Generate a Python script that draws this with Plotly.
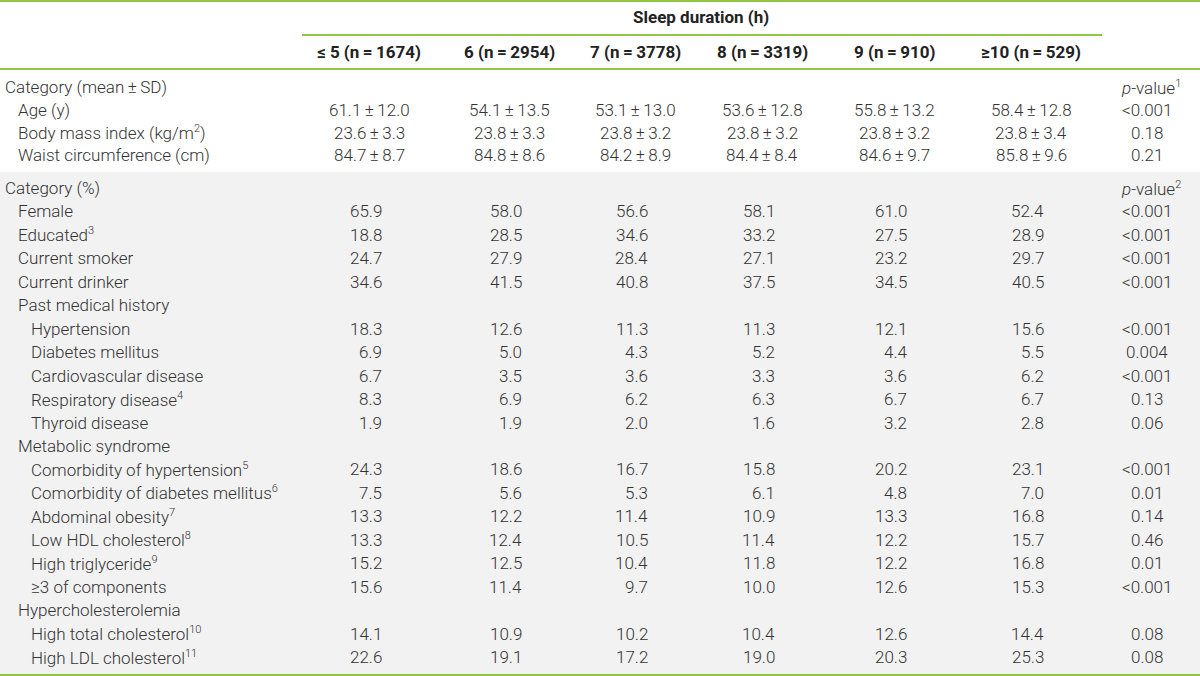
import plotly.graph_objects as go

# ─── Data ─────────────────────────────────────────────────────────────────────
group_headers = ["≤ 5 (n\u2009=\u20091674)", "6 (n\u2009=\u20092954)", "7 (n\u2009=\u20093778)",
                 "8 (n\u2009=\u20093319)", "9 (n\u2009=\u2009910)", "≥10 (n\u2009=\u2009529)"]

mean_labels = ["Age (y)", "Body mass index (kg/m<sup>2</sup>)", "Waist circumference (cm)"]
mean_le5 = [61.1, 23.6, 84.7]
sd_le5 = [12.0, 3.3, 8.7]
mean_6 = [54.1, 23.8, 84.8]
sd_6 = [13.5, 3.3, 8.6]
mean_7 = [53.1, 23.8, 84.2]
sd_7 = [13.0, 3.2, 8.9]
mean_8 = [53.6, 23.8, 84.4]
sd_8 = [12.8, 3.2, 8.4]
mean_9 = [55.8, 23.8, 84.6]
sd_9 = [13.2, 3.2, 9.7]
mean_ge10 = [58.4, 23.8, 85.8]
sd_ge10 = [12.8, 3.4, 9.6]
mean_pvalues = ["<0.001", "0.18", "0.21"]

pct_labels = [
    "Female", "Educated<sup>3</sup>", "Current smoker", "Current drinker",
    "Past medical history", "Hypertension", "Diabetes mellitus",
    "Cardiovascular disease", "Respiratory disease<sup>4</sup>", "Thyroid disease",
    "Metabolic syndrome", "Comorbidity of hypertension<sup>5</sup>",
    "Comorbidity of diabetes mellitus<sup>6</sup>", "Abdominal obesity<sup>7</sup>",
    "Low HDL cholesterol<sup>8</sup>", "High triglyceride<sup>9</sup>",
    "≥3 of components", "Hypercholesterolemia",
    "High total cholesterol<sup>10</sup>", "High LDL cholesterol<sup>11</sup>",
]
pct_indent = [1, 1, 1, 1, 1, 2, 2, 2, 2, 2, 1, 2, 2, 2, 2, 2, 2, 1, 2, 2]
pct_le5 = [65.9, 18.8, 24.7, 34.6, None, 18.3, 6.9, 6.7, 8.3, 1.9,
           None, 24.3, 7.5, 13.3, 13.3, 15.2, 15.6, None, 14.1, 22.6]
pct_6 = [58.0, 28.5, 27.9, 41.5, None, 12.6, 5.0, 3.5, 6.9, 1.9,
         None, 18.6, 5.6, 12.2, 12.4, 12.5, 11.4, None, 10.9, 19.1]
pct_7 = [56.6, 34.6, 28.4, 40.8, None, 11.3, 4.3, 3.6, 6.2, 2.0,
         None, 16.7, 5.3, 11.4, 10.5, 10.4, 9.7, None, 10.2, 17.2]
pct_8 = [58.1, 33.2, 27.1, 37.5, None, 11.3, 5.2, 3.3, 6.3, 1.6,
         None, 15.8, 6.1, 10.9, 11.4, 11.8, 10.0, None, 10.4, 19.0]
pct_9 = [61.0, 27.5, 23.2, 34.5, None, 12.1, 4.4, 3.6, 6.7, 3.2,
         None, 20.2, 4.8, 13.3, 12.2, 12.2, 12.6, None, 12.6, 20.3]
pct_ge10 = [52.4, 28.9, 29.7, 40.5, None, 15.6, 5.5, 6.2, 6.7, 2.8,
            None, 23.1, 7.0, 16.8, 15.7, 16.8, 15.3, None, 14.4, 25.3]
pct_pvalues = ["<0.001", "<0.001", "<0.001", "<0.001", "", "<0.001", "0.004",
               "<0.001", "0.13", "0.06", "", "<0.001", "0.01", "0.14", "0.46",
               "0.01", "<0.001", "", "0.08", "0.08"]

# ─── Layout constants ─────────────────────────────────────────────────────────
W, H = 1200, 676
FONT = "Roboto, Liberation Sans, sans-serif"
TEXT = "#333333"
GREEN = "#8dc63f"
SHADE = "#f1f2f1"
SIZE = 17
col_x = [369, 509, 635, 762, 894, 1031]
pval_x = 1147
indent_x = [4, 17, 30]
mean_y0, mean_dy = 87, 22.8
pct_y0, pct_dy = 188, 23.45

annotations = []


def cell(x, y, text, anchor="center", bold=False, color=TEXT):
    if not text:
        return
    text = text.replace("<0", "&lt;0").replace("<sup>", "<sup><span style='font-size:11px'>") \
               .replace("</sup>", "</span></sup>")
    annotations.append(dict(
        x=x, y=y, xref="x", yref="y", text=f"<b>{text}</b>" if bold else text,
        showarrow=False, xanchor=anchor, yanchor="middle", borderpad=0,
        font=dict(family=FONT, size=SIZE, color=color, weight=300 if not bold else 700),
    ))


# header
cell((col_x[0] + col_x[-1]) / 2 + 1, 17, "Sleep duration (h)", bold=True, color="#222222")
for cx, h in zip(col_x, group_headers):
    cell(cx, 52, h, bold=True, color="#222222")

# mean ± SD section
cell(indent_x[0], mean_y0, "Category (mean\u2009±\u2009SD)", "left")
cell(pval_x - 27, mean_y0, "<i>p</i>-value<sup>1</sup>", "left")
mean_cols = list(zip([mean_le5, mean_6, mean_7, mean_8, mean_9, mean_ge10],
                     [sd_le5, sd_6, sd_7, sd_8, sd_9, sd_ge10]))
for i, label in enumerate(mean_labels):
    y = mean_y0 + (i + 1) * mean_dy
    cell(indent_x[1], y, label, "left")
    for cx, (m, s) in zip(col_x, mean_cols):
        cell(cx, y, f"{m[i]:.1f}\u2009±\u2009{s[i]:.1f}")
    cell(pval_x, y, mean_pvalues[i])

# percentage section
cell(indent_x[0], pct_y0, "Category (%)", "left")
cell(pval_x - 27, pct_y0, "<i>p</i>-value<sup>2</sup>", "left")
pct_cols = [pct_le5, pct_6, pct_7, pct_8, pct_9, pct_ge10]
for i, label in enumerate(pct_labels):
    y = pct_y0 + (i + 1) * pct_dy
    cell(indent_x[pct_indent[i]], y, label, "left")
    for cx, vals in zip(col_x, pct_cols):
        if vals[i] is not None:
            cell(cx + 14, y, f"{vals[i]:.1f}", "right")
    cell(pval_x, y, pct_pvalues[i])

# shading and rules
shapes = [
    dict(type="rect", x0=0, x1=W, y0=172, y1=H, fillcolor=SHADE, line_width=0, layer="below"),
    dict(type="line", x0=0, x1=W, y0=1, y1=1, line=dict(color=GREEN, width=2)),
    dict(type="line", x0=302, x1=1102, y0=35, y1=35, line=dict(color=GREEN, width=2)),
    dict(type="line", x0=0, x1=W, y0=69, y1=69, line=dict(color=GREEN, width=2)),
    dict(type="line", x0=0, x1=W, y0=675, y1=675, line=dict(color=GREEN, width=2)),
]

fig = go.Figure()
fig.add_trace(go.Scatter(x=[0, W], y=[0, H], mode="markers", marker=dict(opacity=0),
                         hoverinfo="skip", showlegend=False))
fig.update_layout(
    width=W, height=H,
    margin=dict(l=0, r=0, t=0, b=0),
    paper_bgcolor="white", plot_bgcolor="white",
    shapes=shapes, annotations=annotations,
    xaxis=dict(range=[0, W], visible=False, fixedrange=True),
    yaxis=dict(range=[H, 0], visible=False, fixedrange=True),
)

fig.write_html("out.html", config={"displayModeBar": False},
               post_script="document.body.style.margin='0';")
